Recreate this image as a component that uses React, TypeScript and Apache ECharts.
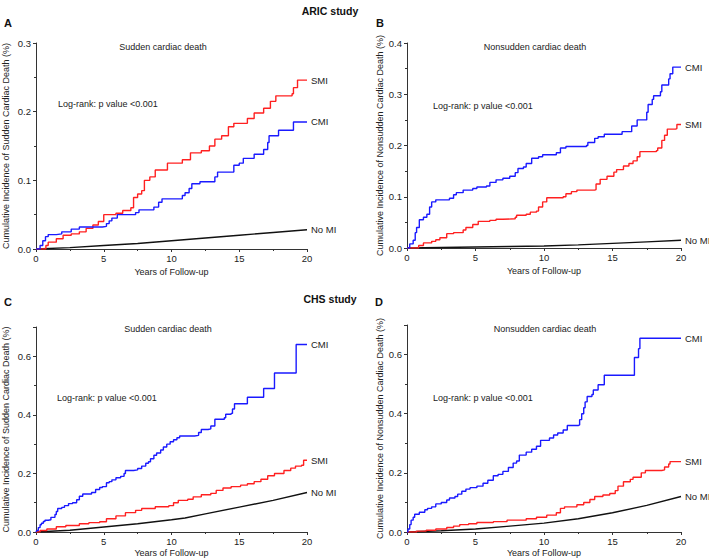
import React, { useEffect, useRef } from "react";
import * as echarts from "echarts";

// ---------- DATA ----------
const yearsTicks = [0, 5, 10, 15, 20];
const groupNames = ["SMI", "CMI", "No MI"];

// ARIC – Sudden cardiac death (A)
const aSMI = [[0,0],[0.73,0.005],[0.9,0.01],[1.5,0.015],[2.0,0.02],[2.6,0.022],[3.2,0.025],[3.7,0.03],[4.2,0.035],[4.6,0.04],[5.0,0.05],[5.9,0.052],[6.4,0.056],[7.0,0.06],[7.2,0.075],[7.5,0.08],[7.8,0.085],[8.0,0.1],[8.4,0.105],[8.8,0.115],[9.7,0.125],[10.8,0.13],[11.4,0.14],[12.2,0.143],[12.8,0.15],[13.2,0.16],[13.7,0.165],[14.2,0.178],[14.6,0.183],[15.6,0.19],[16.1,0.198],[16.8,0.205],[17.3,0.215],[17.7,0.223],[18.9,0.226],[19.0,0.235],[19.3,0.246],[20,0.246]];
const aCMI = [[0,0],[0.3,0.005],[0.5,0.012],[0.7,0.018],[0.9,0.021],[1.5,0.022],[1.9,0.025],[2.6,0.029],[3.2,0.032],[4.9,0.033],[5.2,0.037],[5.4,0.041],[5.6,0.045],[6.0,0.05],[7.35,0.053],[7.6,0.057],[8.7,0.061],[9.05,0.068],[9.3,0.073],[10.8,0.078],[11.0,0.082],[11.3,0.088],[11.5,0.095],[12.1,0.098],[13.2,0.105],[13.4,0.112],[14.6,0.122],[15.0,0.125],[15.3,0.132],[16.1,0.138],[16.8,0.145],[17.1,0.155],[17.2,0.165],[17.9,0.173],[19.0,0.185],[20,0.185]];
const aNoMI = [[0,0],[2.5,0.002],[5,0.005],[7.5,0.008],[10,0.012],[12.5,0.016],[15,0.02],[17.5,0.024],[20,0.028]];

// ARIC – Nonsudden cardiac death (B)
const bCMI = [[0,0],[0.2,0.008],[0.45,0.015],[0.6,0.03],[0.7,0.04],[0.9,0.055],[1.2,0.06],[1.45,0.066],[1.65,0.08],[1.8,0.09],[2.1,0.094],[3.1,0.097],[3.4,0.104],[3.6,0.108],[4.1,0.113],[4.8,0.116],[5.1,0.119],[5.8,0.121],[6.05,0.128],[6.5,0.133],[7.0,0.136],[7.5,0.14],[7.9,0.147],[8.1,0.155],[8.5,0.158],[8.7,0.165],[9.1,0.175],[9.6,0.178],[9.9,0.182],[10.9,0.186],[11.2,0.195],[11.6,0.198],[13.1,0.2],[13.2,0.206],[13.7,0.214],[13.95,0.217],[14.4,0.222],[15.7,0.227],[16.4,0.238],[16.8,0.25],[17.5,0.265],[17.6,0.28],[17.9,0.29],[18.0,0.297],[18.5,0.305],[18.6,0.318],[19.1,0.33],[19.2,0.34],[19.4,0.353],[20,0.353]];
const bSMI = [[0,0],[0.85,0.005],[1.2,0.01],[1.8,0.013],[2.1,0.016],[2.4,0.02],[2.9,0.028],[3.4,0.03],[4.1,0.035],[4.3,0.04],[4.8,0.046],[5.2,0.052],[6.05,0.054],[6.5,0.056],[7.0,0.057],[7.9,0.06],[8.0,0.064],[8.7,0.066],[9.0,0.07],[9.45,0.072],[9.6,0.08],[9.9,0.09],[10.2,0.098],[11.4,0.1],[11.6,0.106],[12.0,0.11],[12.4,0.113],[13.7,0.114],[13.8,0.125],[14.1,0.134],[14.6,0.14],[15.1,0.148],[15.3,0.153],[15.8,0.16],[16.2,0.165],[16.5,0.17],[16.8,0.178],[17.0,0.188],[18.2,0.19],[18.3,0.195],[18.6,0.21],[18.8,0.22],[19.0,0.232],[19.6,0.233],[19.7,0.241],[20,0.241]];
const bNoMI = [[0,0],[2.5,0.001],[5,0.002],[7.5,0.003],[10,0.004],[12.5,0.006],[15,0.009],[17.5,0.012],[20,0.015]];

// CHS – Sudden cardiac death (C)
const cCMI = [[0,0],[0.05,0.005],[0.17,0.015],[0.3,0.025],[0.4,0.03],[0.54,0.036],[0.66,0.04],[0.9,0.042],[1.1,0.05],[1.4,0.06],[1.5,0.07],[1.6,0.08],[1.9,0.084],[2.1,0.09],[2.4,0.097],[2.7,0.1],[3.0,0.11],[3.2,0.122],[3.45,0.13],[4.1,0.135],[4.4,0.145],[4.7,0.152],[4.9,0.155],[5.2,0.168],[5.4,0.172],[5.6,0.178],[5.9,0.185],[6.25,0.19],[6.5,0.2],[6.6,0.21],[7.2,0.212],[7.5,0.217],[7.8,0.225],[8.1,0.235],[8.3,0.24],[8.45,0.25],[8.7,0.262],[8.9,0.27],[9.2,0.28],[9.4,0.29],[9.65,0.3],[9.9,0.308],[10.15,0.315],[10.4,0.322],[10.6,0.328],[11.7,0.33],[12.0,0.34],[12.2,0.35],[12.7,0.352],[12.9,0.362],[13.2,0.385],[13.9,0.39],[14.0,0.402],[14.4,0.405],[14.5,0.42],[14.65,0.438],[15.6,0.46],[16.8,0.49],[17.6,0.543],[19.2,0.64],[20,0.64]];
const cSMI = [[0,0],[0.3,0.005],[0.8,0.01],[1.5,0.018],[2.2,0.022],[3.2,0.028],[3.9,0.032],[4.7,0.035],[5.2,0.045],[5.9,0.055],[6.6,0.066],[7.35,0.074],[7.8,0.08],[8.8,0.086],[9.8,0.09],[10.15,0.1],[10.5,0.108],[11.2,0.112],[11.6,0.12],[12.2,0.127],[12.9,0.132],[13.3,0.142],[13.8,0.15],[14.4,0.155],[15.1,0.16],[15.6,0.165],[16.1,0.172],[16.6,0.18],[17.1,0.192],[17.6,0.2],[18.3,0.21],[18.8,0.218],[19.15,0.225],[19.6,0.228],[19.75,0.245],[20,0.245]];
const cNoMI = [[0,0],[2.5,0.006],[5,0.017],[7.5,0.028],[10,0.042],[11,0.048],[12.5,0.062],[15,0.085],[17.5,0.108],[20,0.135]];

// CHS – Nonsudden cardiac death (D)
const dCMI = [[0,0],[0.07,0.01],[0.2,0.025],[0.3,0.04],[0.45,0.05],[0.56,0.06],[0.9,0.067],[1.3,0.075],[1.5,0.08],[1.8,0.085],[2.1,0.095],[2.5,0.1],[2.9,0.108],[3.1,0.115],[3.5,0.12],[3.7,0.128],[4.0,0.138],[4.3,0.145],[4.6,0.15],[5.1,0.155],[5.55,0.165],[5.9,0.175],[6.3,0.19],[6.65,0.195],[7.0,0.205],[7.4,0.218],[7.75,0.233],[8.0,0.24],[8.2,0.26],[8.7,0.27],[9.1,0.28],[9.45,0.29],[9.75,0.31],[10.4,0.318],[10.7,0.328],[11.0,0.335],[11.4,0.345],[11.7,0.36],[12.5,0.362],[12.6,0.38],[12.75,0.4],[12.9,0.42],[13.0,0.44],[13.15,0.458],[13.5,0.465],[13.6,0.48],[13.95,0.498],[14.4,0.53],[16.5,0.53],[16.6,0.59],[16.9,0.62],[17.0,0.655],[20,0.655]];
const dSMI = [[0,0],[0.7,0.003],[1.4,0.006],[2.1,0.01],[2.9,0.015],[3.4,0.02],[3.85,0.025],[4.5,0.028],[5.1,0.032],[6.3,0.035],[7.3,0.04],[8.7,0.045],[9.45,0.05],[10.2,0.057],[10.9,0.065],[11.2,0.08],[11.5,0.085],[12.4,0.092],[12.9,0.1],[13.35,0.11],[13.7,0.12],[14.3,0.125],[14.8,0.13],[15.2,0.14],[15.4,0.155],[15.8,0.17],[16.3,0.178],[16.5,0.185],[17.1,0.2],[17.4,0.208],[18.6,0.21],[18.8,0.22],[19.1,0.23],[19.2,0.238],[20,0.238]];
const dNoMI = [[0,0],[2.5,0.004],[5,0.01],[7.5,0.02],[10,0.03],[12.5,0.045],[15,0.065],[17.5,0.09],[20,0.12]];

const yMax = [0.3, 0.4, 0.7, 0.7];
const yInterval = [0.1, 0.1, 0.2, 0.2];
const yNames = [
  "Cumulative Incidence of Sudden Cardiac Death (%)",
  "Cumulative Incidence of Nonsudden Cardiac Death (%)",
  "Cumulative Incidence of Sudden Cardiac Death (%)",
  "Cumulative Incidence of Nonsudden Cardiac Death (%)",
];
const panelTitles = ["Sudden cardiac death", "Nonsudden cardiac death", "Sudden cardiac death", "Nonsudden cardiac death"];
const panelLetters = ["A", "B", "C", "D"];
const studyTitles = ["ARIC study", "CHS study"];
const logRankText = "Log-rank: p value <0.001";
const xName = "Years of Follow-up";

const panelData = [
  { smi: aSMI, cmi: aCMI, nomi: aNoMI },
  { smi: bSMI, cmi: bCMI, nomi: bNoMI },
  { smi: cSMI, cmi: cCMI, nomi: cNoMI },
  { smi: dSMI, cmi: dCMI, nomi: dNoMI },
];

// ---------- LAYOUT ----------
const grids = [
  { left: 33, top: 43, width: 274, height: 206 },
  { left: 407, top: 43, width: 274, height: 205 },
  { left: 33, top: 327, width: 274, height: 205 },
  { left: 407, top: 325, width: 274, height: 207 },
];
const yNameGap = [26, 22, 26, 22];
const xNameGap = [18, 18, 16, 16];
const titlePos = [[163, 47], [535, 47], [168, 329], [545, 329]];
const logRankPos = [[58, 104], [433, 106], [57, 398], [433, 398]];
const letterPos = [[4, 23], [376, 23], [4, 302], [375, 302]];
const studyPos = [[330, 11], [330, 299]];

const FONT = "'Liberation Sans', Arial, sans-serif";
const AX = "#333";
const RED = "#ff2020";
const BLUE = "#1a1aff";

export default function App() {
  const ref = useRef<HTMLDivElement>(null);
  useEffect(() => {
    if (!ref.current) return;
    const chart = echarts.init(ref.current, undefined, { renderer: "svg" });

    const xAxis = grids.map((_, i) => ({
      type: "value",
      gridIndex: i,
      min: 0,
      max: 20,
      interval: 5,
      name: xName,
      nameLocation: "middle",
      nameGap: xNameGap[i],
      nameTextStyle: { fontSize: 9, color: "#222", fontFamily: FONT },
      axisLine: { show: true, onZero: false, lineStyle: { color: AX, width: 1 } },
      axisTick: { show: true, length: 3, lineStyle: { color: AX } },
      minorTick: { show: true, splitNumber: 2, length: 2, lineStyle: { color: AX } },
      splitLine: { show: false },
      minorSplitLine: { show: false },
      axisLabel: { fontSize: 9.5, color: "#222", margin: 4, fontFamily: FONT,
        formatter: (v: number) => (yearsTicks.includes(v) ? String(v) : "") },
    }));

    const yAxis = grids.map((_, i) => ({
      type: "value",
      gridIndex: i,
      min: 0,
      max: yMax[i],
      interval: yInterval[i],
      name: yNames[i],
      nameLocation: "middle",
      nameGap: yNameGap[i],
      nameTextStyle: { fontSize: 9, color: "#222", fontFamily: FONT },
      axisLine: { show: true, lineStyle: { color: AX, width: 1 } },
      axisTick: { show: true, length: 3, lineStyle: { color: AX } },
      minorTick: { show: true, splitNumber: 2, length: 2, lineStyle: { color: AX } },
      splitLine: { show: false },
      minorSplitLine: { show: false },
      axisLabel: { fontSize: 9.5, color: "#222", margin: 5, fontFamily: FONT, showMaxLabel: i < 2,
        formatter: (v: number) => v.toFixed(1) },
    }));

    const endLabel = (name: string) => ({
      show: true,
      formatter: name,
      color: "#222",
      fontSize: 9.5,
      fontFamily: FONT,
      distance: 4,
    });

    const series: any[] = [];
    panelData.forEach((p, i) => {
      series.push({
        type: "line", name: groupNames[2], xAxisIndex: i, yAxisIndex: i, data: p.nomi,
        showSymbol: false, symbol: "none", lineStyle: { color: "#111", width: 1.4 },
        endLabel: endLabel(groupNames[2]), z: 2,
      });
      series.push({
        type: "line", name: groupNames[0], xAxisIndex: i, yAxisIndex: i, data: p.smi, step: "end",
        showSymbol: false, symbol: "none", lineStyle: { color: RED, width: 1.4 },
        endLabel: endLabel(groupNames[0]), z: 3,
      });
      series.push({
        type: "line", name: groupNames[1], xAxisIndex: i, yAxisIndex: i, data: p.cmi, step: "end",
        showSymbol: false, symbol: "none", lineStyle: { color: BLUE, width: 1.4 },
        endLabel: endLabel(groupNames[1]), z: 4,
      });
    });

    const graphic: any[] = [];
    studyTitles.forEach((t, k) => {
      graphic.push({ type: "text", x: studyPos[k][0], y: studyPos[k][1],
        style: { text: t, fontSize: 10.5, fontWeight: "bold", fill: "#111", fontFamily: FONT, align: "center", verticalAlign: "middle" } });
    });
    panelLetters.forEach((t, i) => {
      graphic.push({ type: "text", x: letterPos[i][0], y: letterPos[i][1],
        style: { text: t, fontSize: 11, fontWeight: "bold", fill: "#111", fontFamily: FONT, align: "left", verticalAlign: "middle" } });
      graphic.push({ type: "text", x: titlePos[i][0], y: titlePos[i][1],
        style: { text: panelTitles[i], fontSize: 9, fill: "#222", fontFamily: FONT, align: "center", verticalAlign: "middle" } });
      graphic.push({ type: "text", x: logRankPos[i][0], y: logRankPos[i][1],
        style: { text: logRankText, fontSize: 9, fill: "#222", fontFamily: FONT, align: "left", verticalAlign: "middle" } });
    });

    chart.setOption({
      animation: false,
      backgroundColor: "#fff",
      textStyle: { fontFamily: FONT },
      grid: grids.map((g) => ({ ...g, containLabel: false })),
      xAxis,
      yAxis,
      series,
      graphic,
    });
    return () => chart.dispose();
  }, []);

  return (
    <div
      ref={ref}
      style={{ position: "fixed", left: 0, top: 0, width: 709, height: 560, background: "#fff" }}
    />
  );
}
